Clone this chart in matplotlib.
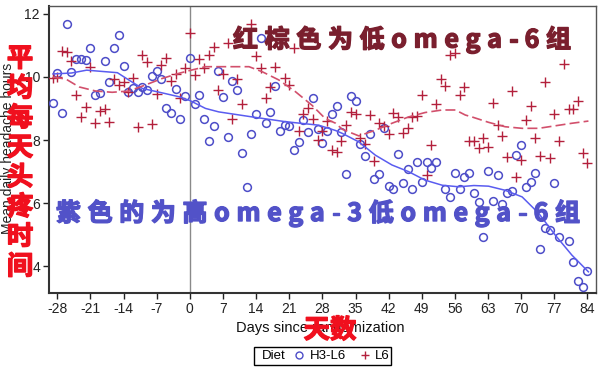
import numpy as np
import matplotlib.pyplot as plt
import matplotlib.patheffects as pe
from matplotlib.lines import Line2D
from matplotlib.patches import Rectangle

plt.rcParams['font.family'] = ['Liberation Sans', 'DejaVu Sans']
plt.rcParams['axes.unicode_minus'] = False
CJK = ['Noto Sans CJK SC', 'DejaVu Sans']

# H3-L6 diet (blue circles), day vs mean daily headache hours
blue_x = [-29, -28, -27, -26, -25, -24, -23, -22, -21, -20, -19, -18, -17, -16, -15,
          -14, -13, -12, -11, -10, -9, -8, -7, -6, -5, -4, -3, -2, -1, 0,
          1, 2, 3, 4, 5, 6, 7, 8, 9, 10, 11, 12, 13, 14, 15,
          16, 17, 18, 19, 20, 21, 22, 23, 24, 25, 26, 27, 28, 29, 30,
          31, 32, 33, 34, 35, 36, 37, 38, 39, 40, 41, 42, 43, 44, 45,
          46, 47, 48, 49, 50, 51, 52, 54, 55, 56, 57, 58, 59, 60, 61,
          62, 63, 64, 65, 66, 67, 68, 69, 70, 71, 72, 73, 74, 75, 76,
          77, 78, 80, 81, 82, 83, 84]
blue_y = [9.16, 10.12, 8.84, 11.67, 10.15, 10.56, 10.56, 10.54, 10.92, 9.43, 9.48, 10.51, 9.85, 10.92, 11.33,
          10.33, 9.51, 9.64, 9.51, 9.68, 9.57, 10.03, 10.18, 9.93, 9.02, 8.84, 9.61, 8.68, 9.40, 10.58,
          9.15, 9.43, 8.66, 7.97, 8.45, 10.18, 9.37, 8.09, 9.86, 9.58, 7.59, 6.52, 8.19, 8.81, 11.22,
          8.54, 8.89, 9.70, 8.28, 8.49, 8.45, 7.68, 7.94, 8.63, 8.24, 9.32, 8.34, 7.89, 8.28, 8.81,
          9.08, 8.25, 6.91, 9.40, 9.25, 7.86, 7.50, 8.19, 6.76, 6.91, 8.37, 6.54, 6.44, 7.55, 6.65,
          7.08, 6.44, 7.29, 6.68, 7.31, 7.12, 7.30, 6.44, 6.19, 6.97, 6.44, 6.84, 6.96, 6.31, 6.03,
          4.92, 7.02, 6.08, 6.89, 5.96, 6.31, 6.39, 7.54, 7.84, 6.52, 6.68, 6.97, 4.54, 5.22, 5.15,
          6.65, 4.92, 4.80, 4.15, 3.54, 3.36, 3.86]

# L6 diet (red plus signs)
red_x = [-29, -28, -27, -26, -25, -24, -23, -22, -21, -20, -19, -18, -17, -16, -15,
         -14, -13, -12, -11, -10, -9, -8, -7, -6, -5, -4, -3, -2, -1, 0,
         1, 2, 3, 4, 5, 6, 7, 8, 9, 10, 11, 13, 14, 15,
         16, 17, 18, 20, 21, 22, 23, 24, 25, 26, 27, 28, 29, 30,
         31, 32, 33, 34, 35, 36, 37, 38, 39, 40, 41, 42, 43, 44, 45,
         46, 47, 48, 49, 50, 51, 52, 53, 54, 55, 56, 57, 58, 59, 60, 61,
         62, 63, 64, 65, 66, 67, 68, 69, 70, 71, 72, 73, 74, 75, 76,
         77, 78, 79, 80, 81, 82, 83, 84]
red_y = [9.97, 10.00, 10.81, 10.79, 10.51, 9.42, 8.72, 9.06, 10.30, 8.54, 8.92, 8.99, 8.58, 9.93, 9.74,
         9.82, 9.51, 9.95, 8.42, 10.68, 10.46, 8.51, 9.45, 10.37, 10.58, 9.86, 10.08, 9.34, 10.27, 11.40,
         10.05, 10.55, 10.28, 10.69, 10.93, 9.58, 10.09, 11.07, 8.65, 9.93, 9.14, 11.67, 10.65, 10.28,
         9.32, 9.68, 10.32, 9.97, 9.74, 10.92, 8.29, 8.82, 9.02, 8.66, 8.00, 8.28, 8.61, 7.67,
         7.62, 7.97, 8.47, 8.89, 8.81, 8.05, 7.86, 8.79, 7.33, 8.53, 8.45, 8.18, 8.84, 8.73, 8.23,
         8.37, 8.72, 8.76, 9.42, 6.89, 7.84, 9.13, 9.93, 9.72, 10.69, 10.74, 9.42, 9.68, 7.97, 7.97, 7.75,
         8.07, 7.78, 9.18, 8.47, 8.12, 7.47, 9.55, 6.82, 7.36, 8.63, 9.08, 8.05, 7.50, 9.84, 7.42,
         8.81, 7.97, 10.42, 8.97, 8.97, 9.24, 7.60, 7.26]

# smoothed curves
blue_fit_x = [-28.9, -25, -21.8, -15.3, -12.9, -10, -5.8, -2.3, 0, 3.3, 6.1, 13.2, 20.2, 27.2,
              30.8, 32.2, 35.7, 39.2, 42.7, 46.2, 49.7, 53.3, 56.8, 60, 63.1, 66.6, 70.2, 73.7,
              77.2, 80.7, 84.2]
blue_fit_y = [10.09, 10.12, 10.21, 10.13, 9.90, 9.63, 9.49, 9.37, 9.25, 9.00, 8.89, 8.73, 8.58, 8.47,
              8.30, 8.21, 7.94, 7.52, 7.21, 7.00, 6.73, 6.57, 6.52, 6.56, 6.54, 6.41, 6.20, 5.68,
              4.99, 4.36, 3.83]
red_fit_x = [-28.9, -26.2, -23.4, -19.9, -16.4, -12.9, -9.4, -5.8, -2.3, 0, 3.3, 6.1, 12.5, 15.3,
             18.8, 22.3, 25.8, 28.6, 30.8, 32.2, 35.7, 39.2, 42.7, 46.2, 49.7, 53.3, 56.1, 58.2,
             59.6, 63.1, 66.6, 70.2, 73.7, 77.2, 80.7, 84.2]
red_fit_y = [9.99, 9.93, 9.68, 9.55, 9.51, 9.55, 9.74, 9.95, 10.11, 10.20, 10.32, 10.32, 10.32, 10.16,
             9.90, 9.53, 9.10, 8.68, 8.53, 8.34, 8.13, 8.31, 8.53, 8.73, 8.87, 8.95, 8.95, 8.79,
             8.73, 8.56, 8.42, 8.37, 8.37, 8.45, 8.53, 8.60]

x_ticks = list(range(-28, 85, 7))
y_ticks = [4, 6, 8, 10, 12]

BLUE = '#4d4dc8'
RED = '#b3203c'

W, H = 602, 371
fig = plt.figure(figsize=(W / 100, H / 100), dpi=100)
ax = fig.add_axes([49 / W, 1 - 293 / H, (596 - 49) / W, (293 - 6) / H])

ax.axvline(0, color='#8a8a8a', lw=1.0, zorder=1)
ax.plot(blue_x, blue_y, 'o', mfc='none', mec=BLUE, ms=5.6, mew=1.1, zorder=3)
ax.plot(red_x, red_y, '+', color=RED, ms=7, mew=1.0, zorder=3)
ax.plot(blue_fit_x, blue_fit_y, '-', color='#5a5cf0', lw=1.1, zorder=4)
ax.plot(red_fit_x, red_fit_y, '--', color='#d2506c', lw=1.2, dashes=(6, 2.5), zorder=4)

ax.set_xlim(-29.75, 85.8)
ax.set_ylim(3.16, 12.24)
ax.set_xticks(x_ticks)
ax.set_yticks(y_ticks)
ax.tick_params(direction='out', length=4.5, width=1.0, pad=2, labelsize=10, colors='#222222')
for s in ['left', 'bottom']:
    ax.spines[s].set_linewidth(1.5)
    ax.spines[s].set_color('#333333')
for s in ['top', 'right']:
    ax.spines[s].set_linewidth(1.0)
    ax.spines[s].set_color('#555555')

fig.text(8 / W, 1 - 148 / H, 'Mean daily headache hours', rotation=90,
         ha='center', va='center', fontsize=10, color='#222222')
fig.text(320 / W, 1 - 328 / H, 'Days since randomization', ha='center', va='center',
         fontsize=10.5, color='#111111')

# legend: box, title and two entries
fig.patches.append(Rectangle((254 / W, 1 - 365 / H), (391 - 254) / W, 18 / H,
                             transform=fig.transFigure, fill=False, ec='black', lw=1.0))
fig.text(262 / W, 1 - 356 / H, 'Diet', ha='left', va='center', fontsize=9.5)
h1 = Line2D([], [], ls='none', marker='o', mfc='none', mec=BLUE, ms=5, mew=1.0)
h2 = Line2D([], [], ls='none', marker='+', color=RED, ms=6, mew=1.0)
fig.legend([h1, h2], ['H3-L6', 'L6'], loc='center left', bbox_to_anchor=(294 / W, 1 - 356 / H),
           ncol=2, frameon=False, fontsize=9.5, handlelength=0.8, handletextpad=0.4,
           columnspacing=1.0, borderpad=0, borderaxespad=0)

# overlaid Chinese notes
r = fig.canvas.get_renderer()


def spaced(s, x0, x1, base, color, size=18):
    # lay the characters out one by one so they fill x0..x1 evenly
    kw = dict(ha='left', va='baseline', family=CJK, fontsize=size, weight='heavy', color=color,
              path_effects=[pe.withStroke(linewidth=1.0, foreground=color)])
    texts = [fig.text(0, 1 - base / H, ch, **kw) for ch in s]
    widths = [t.get_window_extent(renderer=r).width for t in texts]
    gap = (x1 - x0 - sum(widths)) / (len(s) - 1)
    x = x0
    for t, w in zip(texts, widths):
        t.set_x(x / W)
        x += w + gap


spaced('红棕色为低omega-6组', 233, 571, 47.5, '#7a1f2e')
spaced('紫色的为高omega-3低omega-6组', 56, 580, 221, '#5252c8')

side_color = '#f0101e'
side = '平均每天头疼时间'
for i, ch in enumerate(side):
    fig.text(20 / W, 1 - (57 + i * 29.7 + 9.5) / H, ch, ha='center', va='baseline',
             family=CJK, fontsize=19, weight='heavy', color=side_color,
             path_effects=[pe.withStroke(linewidth=1.0, foreground=side_color)])

fig.text(330 / W, 1 - 338 / H, '天数', ha='center', va='baseline', family=CJK,
         fontsize=19, weight='heavy', color=side_color,
         path_effects=[pe.withStroke(linewidth=1.0, foreground=side_color)])

fig.savefig('out.png', dpi=100)
